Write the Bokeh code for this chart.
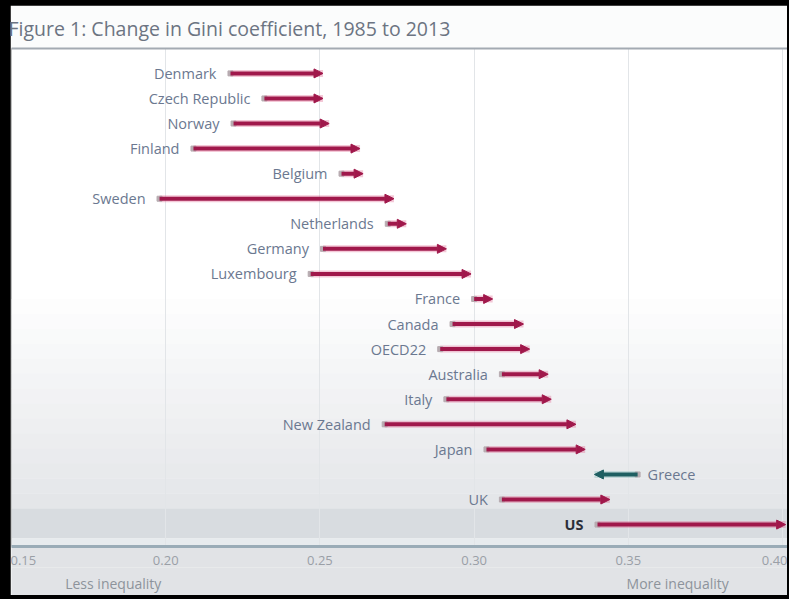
from bokeh.plotting import figure
from bokeh.layouts import column
from bokeh.models import (Range1d, ColumnDataSource, Arrow, NormalHead, LinearAxis,
                          FixedTicker, BoxAnnotation)
from bokeh.core.properties import value
from bokeh.embed import file_html
from bokeh.resources import INLINE

# ---------------- data ----------------
countries = ["Denmark", "Czech Republic", "Norway", "Finland", "Belgium", "Sweden",
             "Netherlands", "Germany", "Luxembourg", "France", "Canada", "OECD22",
             "Australia", "Italy", "New Zealand", "Japan", "Greece", "UK", "US"]
gini_1985 = [0.221, 0.232, 0.222, 0.209, 0.257, 0.198, 0.272, 0.251, 0.247, 0.300,
             0.293, 0.289, 0.309, 0.291, 0.271, 0.304, 0.353, 0.309, 0.340]
gini_2013 = [0.251, 0.251, 0.253, 0.263, 0.264, 0.274, 0.278, 0.291, 0.299, 0.306,
             0.316, 0.318, 0.324, 0.325, 0.333, 0.336, 0.339, 0.344, 0.401]
x_ticks = [0.15, 0.20, 0.25, 0.30, 0.35, 0.40]
tick_labels = ["0.15", "0.20", "0.25", "0.30", "0.35", "0.40"]
scale_notes = ["Less inequality", "More inequality"]
scale_note_pos = [0.183, 0.366]
title_text = "Figure 1: Change in Gini coefficient, 1985 to 2013"
highlight = "US"

# ---------------- styling ----------------
RED = "#a0184b"
RED_GLOW = "#e0628c"
TEAL = "#1f5f62"
TEAL_GLOW = "#7fb6b6"
LABEL = "#6b7890"
FONT = "Open Sans"

n = len(countries)
rows = list(range(n))
up = [e >= s for s, e in zip(gini_1985, gini_2013)]
src = ColumnDataSource(dict(
    y=rows,
    start=gini_1985,
    end=gini_2013,
    name=countries,
    color=[RED if u else TEAL for u in up],
    glow=[RED_GLOW if u else TEAL_GLOW for u in up],
    align=["right" if u else "left" for u in up],
    xoff=[-14 if u else 10 for u in up],
    tcolor=["#2b2f38" if c == highlight else LABEL for c in countries],
    tstyle=["bold" if c == highlight else "normal" for c in countries],
))

p = figure(width=777, height=590, output_backend="svg", toolbar_location=None,
           x_range=Range1d(0.15, 0.4016), y_range=Range1d(n - 1 + 0.874, -0.993),
           min_border_left=1, min_border_right=0, min_border_top=43, min_border_bottom=4,
           background_fill_color="#ffffff", border_fill_color="#fbfcfc",
           outline_line_color=None)

# title
p.title.text = title_text
p.title.text_font = FONT
p.title.text_font_size = "19.5px"
p.title.text_font_style = "normal"
p.title.text_color = "#6c7482"
p.title.offset = -3
p.title.standoff = 14

# gradient background (bands in row units)
grad_start, grad_end, steps = 9.0, 17.36, 14
c0, c1 = (255, 255, 255), (228, 230, 233)
for i in range(steps):
    t = (i + 1) / steps
    col = tuple(int(round(a + (b - a) * t)) for a, b in zip(c0, c1))
    b0 = grad_start + (grad_end - grad_start) * i / steps
    b1 = grad_start + (grad_end - grad_start) * (i + 1) / steps
    p.add_layout(BoxAnnotation(top=b0, bottom=b1 + 0.01, fill_color="#%02x%02x%02x" % col,
                               fill_alpha=1, line_alpha=0, level="image"))
p.add_layout(BoxAnnotation(top=grad_end, bottom=18.55, fill_color="#d8dce0",
                           fill_alpha=1, line_alpha=0, level="image"))
p.add_layout(BoxAnnotation(top=18.55, bottom=n - 1 + 0.9, fill_color="#e7ebee",
                           fill_alpha=1, line_alpha=0, level="image"))

# grid
p.ygrid.visible = False
p.xgrid.ticker = FixedTicker(ticks=x_ticks)
p.xgrid.grid_line_color = "#e2e5e8"
p.xgrid.grid_line_width = 1
p.xgrid.level = "underlay"

# axes
p.yaxis.visible = False
ax = p.xaxis[0]
ax.ticker = FixedTicker(ticks=x_ticks)
ax.major_label_overrides = {t: l for t, l in zip(x_ticks, tick_labels)}
ax.axis_line_color = "#9aacb7"
ax.axis_line_width = 3
ax.major_tick_line_color = None
ax.minor_tick_line_color = None
ax.major_label_text_font = FONT
ax.major_label_text_font_size = "13px"
ax.major_label_text_color = "#9a9fa6"
ax.major_label_standoff = 3
ax.background_fill_color = "#e1e3e6"

note_axis = LinearAxis(ticker=FixedTicker(ticks=scale_note_pos),
                       major_label_overrides={t: l for t, l in zip(scale_note_pos, scale_notes)},
                       axis_line_color=None, major_tick_line_color=None,
                       minor_tick_line_color=None, major_label_text_font=FONT,
                       major_label_text_font_size="14px", major_label_text_color="#8d939b",
                       major_label_standoff=0)
note_axis.background_fill_color = "#e1e3e6"
p.add_layout(note_axis, "below")

top_axis = LinearAxis(ticker=FixedTicker(ticks=[]), axis_line_color="#a3aab2",
                      axis_line_width=2, major_tick_line_color=None,
                      minor_tick_line_color=None, major_label_text_font_size="0px")
p.add_layout(top_axis, "above")

# arrows
p.segment(x0="start", y0="y", x1="end", y1="y", source=src, line_color="glow",
          line_width=7, line_alpha=0.35)
p.add_layout(Arrow(x_start="start", y_start="y", x_end="end", y_end="y", source=src,
                   line_color="color", line_width=4,
                   end=NormalHead(size=9, line_color="color", fill_color="color",
                                  line_width=1)))
p.scatter(x="start", y="y", source=src, marker="square", size=5, color="#b7abb0")

# labels
p.text(x="start", y="y", text="name", source=src, text_align="align",
       text_baseline="middle", x_offset="xoff", text_color="tcolor",
       text_font_style="tstyle", text_font=value(FONT), text_font_size="14.5px")

# black photo frame: 777 + 10 + 2 = 789 wide, 590 + 5 + 4 = 599 high
page = column(p, styles={"background-color": "#000000", "padding": "5px 2px 4px 10px"})

open("out.html", "w").write(file_html(page, INLINE))
